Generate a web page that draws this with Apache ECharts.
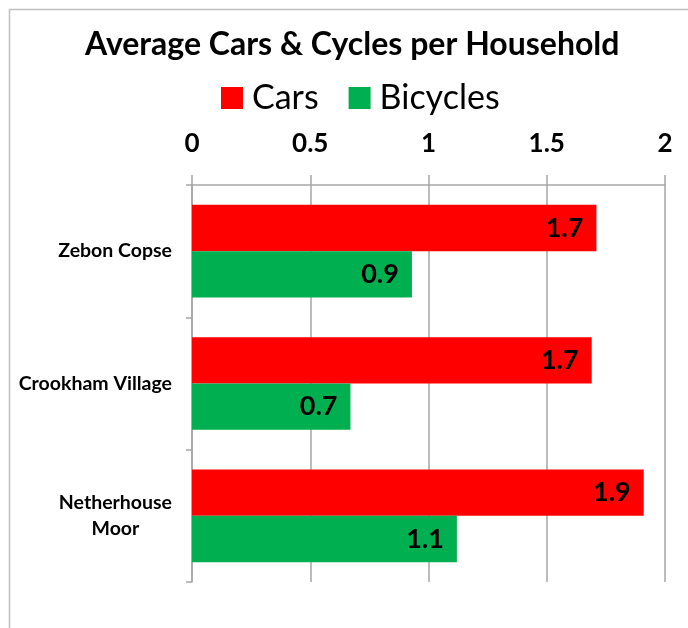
<!DOCTYPE html>
<html>
<head>
<meta charset="utf-8">
<script src="https://cdn.jsdelivr.net/npm/echarts@6/dist/echarts.min.js"></script>
<style>
  html, body { margin: 0; padding: 0; background: #fff; }
  #main { width: 688px; height: 628px; }
</style>
</head>
<body>
<div id="main"></div>
<script>
// data
var places = ['Zebon Copse', 'Crookham Village', 'Netherhouse\nMoor'];
var cars = [1.71, 1.69, 1.91];
var bicycles = [0.93, 0.67, 1.12];
var ticks = [0, 0.5, 1, 1.5, 2];

var FONT = 'Lato';
var GRID = '#a6a6a6';

var chart = echarts.init(document.getElementById('main'), null, { renderer: 'canvas' });

function barLabel() {
  return {
    show: true,
    position: 'insideRight',
    distance: 13,
    color: '#000',
    fontFamily: FONT,
    fontWeight: 'bold',
    fontSize: 27,
    formatter: function (p) { return p.value.toFixed(1); }
  };
}

var option = {
  backgroundColor: '#fff',
  animation: false,
  textStyle: { fontFamily: FONT },
  title: {
    text: 'Average Cars & Cycles per Household',
    left: 80,
    top: 24,
    textStyle: { fontFamily: FONT, fontWeight: 'bold', fontSize: 32, color: '#000' }
  },
  legend: {
    left: 216,
    top: 76,
    itemWidth: 22,
    itemHeight: 22,
    itemGap: 30,
    icon: 'rect',
    textStyle: { fontFamily: FONT, fontSize: 34, color: '#000', padding: [0, 0, 0, 4] },
    data: ['Cars', 'Bicycles']
  },
  graphic: [{
    type: 'rect',
    shape: { x: 9.5, y: 9.5, width: 720, height: 700 },
    style: { fill: null, stroke: '#bfbfbf', lineWidth: 1.5 },
    silent: true
  }],
  grid: { left: 192, right: 23, top: 185, bottom: 46 },
  xAxis: {
    type: 'value',
    position: 'top',
    min: ticks[0],
    max: ticks[ticks.length - 1],
    interval: 0.5,
    axisLine: { show: true, lineStyle: { color: GRID, width: 1.5 } },
    axisTick: { show: true, length: 10, lineStyle: { color: GRID, width: 1.5 } },
    axisLabel: {
      margin: 28,
      color: '#000',
      fontFamily: FONT,
      fontWeight: 'bold',
      fontSize: 26,
      formatter: function (v) { return String(v); }
    },
    splitLine: { show: true, lineStyle: { color: GRID, width: 1.5 } }
  },
  yAxis: {
    type: 'category',
    inverse: true,
    data: places,
    axisLine: { show: true, lineStyle: { color: GRID, width: 1.5 } },
    axisTick: { show: true, length: 6, lineStyle: { color: GRID, width: 1.5 } },
    axisLabel: {
      margin: 20,
      formatter: function (v) {
        return v.split('\n').map(function (l) { return '{c|' + l + '}'; }).join('\n');
      },
      rich: {
        c: { align: 'center', fontFamily: FONT, fontWeight: 'bold', fontSize: 19.5, lineHeight: 26, color: '#000' }
      }
    }
  },
  series: [{
    name: 'Cars',
    type: 'bar',
    data: cars,
    barGap: '0%',
    barCategoryGap: '30%',
    itemStyle: { color: '#ff0000' },
    label: barLabel()
  }, {
    name: 'Bicycles',
    type: 'bar',
    data: bicycles,
    itemStyle: { color: '#00b050' },
    label: barLabel()
  }]
};

chart.setOption(option);
</script>
</body>
</html>
